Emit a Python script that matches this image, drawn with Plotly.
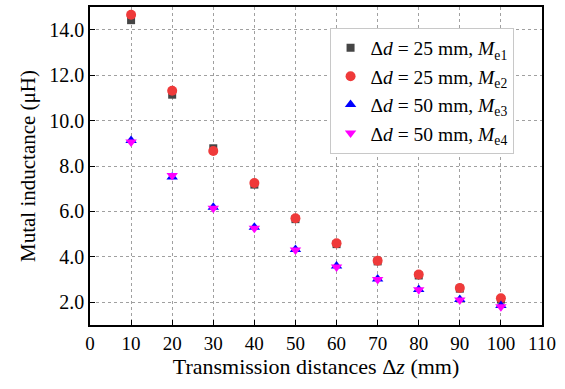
import plotly.graph_objects as go

z = [10, 20, 30, 40, 50, 60, 70, 80, 90, 100]
me1 = [14.42, 11.14, 8.78, 7.18, 5.66, 4.56, 3.80, 3.18, 2.60, 2.12]
me2 = [14.66, 11.31, 8.66, 7.25, 5.70, 4.60, 3.83, 3.22, 2.63, 2.18]
me3 = [9.12, 7.52, 6.18, 5.30, 4.32, 3.60, 3.02, 2.56, 2.12, 1.86]
me4 = [9.06, 7.58, 6.14, 5.26, 4.30, 3.55, 3.00, 2.55, 2.10, 1.80]
names = ["Δ<i>d</i> = 25 mm, <i>M</i><sub>e1</sub>",
         "Δ<i>d</i> = 25 mm, <i>M</i><sub>e2</sub>",
         "Δ<i>d</i> = 50 mm, <i>M</i><sub>e3</sub>",
         "Δ<i>d</i> = 50 mm, <i>M</i><sub>e4</sub>"]
ytickvals = [2, 4, 6, 8, 10, 12, 14]
xtickvals = [0, 10, 20, 30, 40, 50, 60, 70, 80, 90, 100, 110]

series = [
    (me1, "square", "#454545", 8),
    (me2, "circle", "#EF3A3A", 10),
    (me3, "triangle-up", "#0000FF", 10),
    (me4, "triangle-down", "#FF00FF", 10),
]

fig = go.Figure()
for (vals, sym, col, sz), nm in zip(series, names):
    fig.add_trace(go.Scatter(x=z, y=vals, mode="markers", name=nm,
                             marker=dict(symbol=sym, color=col, size=sz, line=dict(width=0))))

font = "Liberation Serif"
fig.update_layout(
    width=565, height=389,
    margin=dict(l=90, r=23, t=7, b=64),
    paper_bgcolor="white", plot_bgcolor="white",
    font=dict(family=font, size=19, color="black"),
    showlegend=True,
    legend=dict(x=0.53, y=0.935, xanchor="left", yanchor="top",
                bgcolor="white", bordercolor="#C8C8C8", borderwidth=1,
                font=dict(family=font, size=19.5), tracegroupgap=0,
                itemwidth=30),
)
fig.update_xaxes(range=[0, 110], tickvals=xtickvals, ticks="inside", ticklen=5,
                 tickcolor="black", showline=True, linecolor="black", linewidth=1.5,
                 mirror=True, showgrid=True, gridcolor="#A0A0A0", griddash="dot",
                 gridwidth=1, zeroline=False, automargin=False,
                 title=dict(text="Transmission distances Δ<i>z</i> (mm)", font=dict(size=22), standoff=6),
                 tickfont=dict(size=19))
fig.update_yaxes(range=[1, 15], tickvals=ytickvals, tickformat=".1f", ticks="inside", ticklen=5,
                 tickcolor="black", showline=True, linecolor="black", linewidth=1.5,
                 mirror=True, showgrid=True, gridcolor="#A0A0A0", griddash="dot",
                 gridwidth=1, zeroline=False, automargin=False,
                 title=dict(text="Mutal inductance (μH)", font=dict(size=21), standoff=8),
                 tickfont=dict(size=20))

fig.write_html("out.html", config={"displayModeBar": False},
               post_script="document.body.style.margin='0';")
